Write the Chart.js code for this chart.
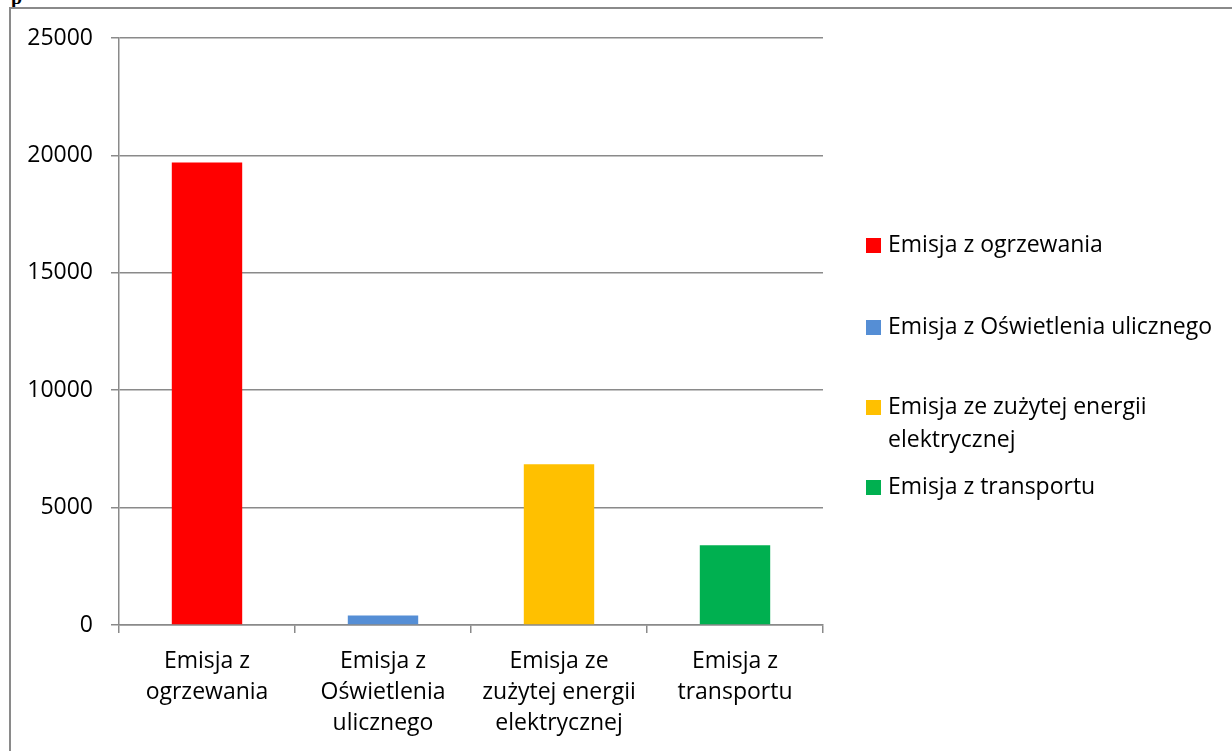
<!DOCTYPE html>
<html>
<head>
<meta charset="utf-8">
<script src="https://cdn.jsdelivr.net/npm/chart.js@4"></script>
<style>
  html, body { margin: 0; padding: 0; background: #fff; }
  #wrap { position: relative; width: 1232px; height: 751px; overflow: hidden; }
  #frame { position: absolute; left: 9px; top: 7px; width: 1240px; height: 760px;
           border-left: 2px solid #8a8a8a; border-top: 2px solid #8a8a8a; }
  #pchar { position: absolute; left: 11px; top: -14px; font: bold 20px "Liberation Serif", serif; color: #000; }
  canvas { position: absolute; left: 0; top: 0; }
</style>
</head>
<body>
<div id="wrap">
  <div id="pchar">p</div>
  <div id="frame"></div>
  <canvas id="c" width="1232" height="751"></canvas>
</div>
<script>
// Data
const categories = [
  ["Emisja z", "ogrzewania"],
  ["Emisja z", "Oświetlenia", "ulicznego"],
  ["Emisja ze", "zużytej energii", "elektrycznej"],
  ["Emisja z", "transportu"]
];
const legendLabels = [
  ["Emisja z ogrzewania"],
  ["Emisja z Oświetlenia ulicznego"],
  ["Emisja ze zużytej energii", "elektrycznej"],
  ["Emisja z transportu"]
];
const emissionValues = [19700, 400, 6850, 3400];
const barColors = ["#FF0000", "#558ED5", "#FFC000", "#00B050"];
const yTickValues = [0, 5000, 10000, 15000, 20000, 25000];

const FONT = '"Open Sans", "DejaVu Sans", sans-serif';
const FSIZE = 23;

const legendPlugin = {
  id: 'sideLegend',
  afterDraw(chart) {
    const ctx = chart.ctx;
    const rows = [245, 327, 407, 487];
    const lineH = 33;
    ctx.save();
    ctx.font = FSIZE + 'px ' + FONT;
    ctx.textBaseline = 'middle';
    ctx.textAlign = 'left';
    legendLabels.forEach((lines, i) => {
      const y = rows[i];
      ctx.fillStyle = barColors[i];
      ctx.fillRect(866, y - 7, 15, 15);
      ctx.fillStyle = '#000';
      lines.forEach((t, j) => ctx.fillText(t, 888, y + j * lineH));
    });
    ctx.restore();
  }
};

new Chart(document.getElementById('c'), {
  type: 'bar',
  data: {
    labels: categories,
    datasets: [{
      data: emissionValues,
      backgroundColor: barColors,
      borderWidth: 0,
      barPercentage: 0.4,
      categoryPercentage: 1.0
    }]
  },
  options: {
    responsive: false,
    animation: false,
    devicePixelRatio: 1,
    layout: { padding: { left: 0, top: 38, right: 409, bottom: 0 } },
    plugins: { legend: { display: false }, tooltip: { enabled: false } },
    scales: {
      x: {
        afterFit(s) { s.height = 126; },
        grid: { drawOnChartArea: false, color: '#8a8a8a', lineWidth: 1.5, tickLength: 8, offset: true },
        border: { color: '#8a8a8a', width: 1.5 },
        ticks: { color: '#000', font: { family: FONT, size: FSIZE, lineHeight: 1.35 }, padding: 13, maxRotation: 0, autoSkip: false }
      },
      y: {
        min: 0, max: 25000,
        afterFit(s) { s.width = 119; },
        afterBuildTicks(s) { s.ticks = yTickValues.map(v => ({ value: v })); },
        grid: { color: '#8a8a8a', lineWidth: 1.5, tickLength: 8 },
        border: { color: '#8a8a8a', width: 1.5 },
        ticks: { color: '#000', font: { family: FONT, size: FSIZE }, padding: 18, callback: v => String(v) }
      }
    }
  },
  plugins: [legendPlugin]
});
</script>
</body>
</html>
